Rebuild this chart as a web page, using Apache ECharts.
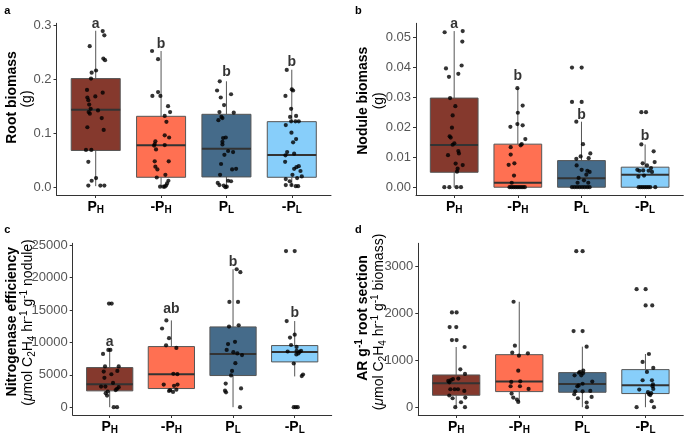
<!DOCTYPE html>
<html><head><meta charset="utf-8">
<script src="https://cdn.jsdelivr.net/npm/echarts@6/dist/echarts.min.js"></script>
<style>html,body{margin:0;padding:0;background:#fff}#c{width:685px;height:433px}</style>
</head><body><div id="c"></div>
<script>
// ---------- DATA ----------
const categories = ['PH', '-PH', 'PL', '-PL'];
const categoryLabels = ['{m|P}{s|H}', '{m|-P}{s|H}', '{m|P}{s|L}', '{m|-P}{s|L}'];

// box stats: [lowerWhisker, Q1, median, Q3, upperWhisker]
const rootBoxes = [[0.002,0.068,0.1435,0.201,0.2895],[0.001,0.0184,0.0776,0.1312,0.252],[0,0.019,0.0714,0.1349,0.196],[0.002,0.0184,0.0597,0.1213,0.2174]];
const noduleBoxes = [[0,0.005,0.0141,0.0298,0.0522],[0,0,0.0015,0.0144,0.0331],[0,0,0.003,0.0089,0.0219],[0,0,0.0042,0.0067,0.0143]];
const effBoxes = [[0,2520,3549,6121,8950],[2350,2881,5092,9361,13400],[0,4887,8229,12395,21300],[4750,6994,8538,9515,13300]];
const arBoxes = [[0,255,511,688,1284],[113,333,546,1121,2249],[0,319,496,738,1291],[0,291,468,802,1135]];

// jittered points: [jitter offset (category units), value]
const rootPH = [[0.107,0.289],[0.132,0.281],[-0.092,0.261],[0.117,0.238],[0.143,0.235],[0.005,0.216],[-0.062,0.212],[-0.072,0.201],[-0.133,0.180],[0.107,0.175],[-0.006,0.168],[-0.128,0.166],[-0.113,0.161],[-0.1,0.153],[-0.077,0.145],[0.035,0.142],[-0.108,0.139],[-0.09,0.136],[0.092,0.128],[-0.128,0.111],[0.122,0.106],[-0.149,0.069],[-0.067,0.069],[-0.113,0.047],[0.005,0.017],[-0.062,0.012],[-0.113,0.003],[0.071,0.003],[0.132,0.003]];
const rootNegPH = [[-0.138,0.252],[-0.046,0.237],[-0.046,0.176],[-0.133,0.169],[-0.010,0.169],[0.107,0.150],[0.138,0.139],[0.056,0.132],[0.082,0.121],[0.056,0.096],[0.123,0.092],[-0.087,0.085],[-0.097,0.080],[-0.107,0.077],[0.056,0.078],[-0.077,0.070],[-0.097,0.048],[0.117,0.048],[-0.087,0.038],[-0.056,0.033],[0.066,0.023],[-0.066,0.018],[0.112,0.012],[0.092,0.007],[0.077,0.003],[0.056,0.001],[-0.015,0.001],[0.036,0.001]];
const rootPL = [[-0.102,0.196],[-0.143,0.179],[0.071,0.172],[-0.087,0.166],[-0.036,0.152],[-0.107,0.139],[0.112,0.138],[-0.077,0.130],[-0.061,0.128],[-0.123,0.124],[-0.010,0.092],[-0.051,0.091],[-0.061,0.084],[-0.061,0.079],[0.026,0.067],[0.102,0.065],[-0.031,0.060],[-0.082,0.043],[0.087,0.033],[0.148,0.034],[-0.097,0.023],[0.026,0.012],[0.071,0.011],[-0.133,0.008],[-0.107,0.004],[-0.041,0.003],[0.005,0.001],[-0.015,0.000]];
const rootNegPL = [[-0.077,0.217],[0.000,0.181],[0.02,0.179],[-0.097,0.169],[-0.010,0.145],[-0.026,0.130],[0.066,0.132],[-0.010,0.122],[0.056,0.122],[0.107,0.122],[-0.092,0.115],[-0.005,0.101],[0.066,0.089],[0.020,0.083],[-0.071,0.065],[0.036,0.062],[-0.097,0.059],[-0.102,0.047],[0.107,0.039],[0.071,0.037],[0.036,0.034],[0.133,0.030],[0.010,0.023],[0.153,0.020],[-0.092,0.015],[0.082,0.017],[-0.031,0.011],[-0.092,0.004],[-0.005,0.004],[0.061,0.002],[0.097,0.002]];

const nodPH = [[-0.150,0.0518],[0.134,0.0522],[0.128,0.0487],[0.117,0.0407],[-0.129,0.0397],[0.065,0.0379],[-0.082,0.0369],[-0.065,0.0298],[0.018,0.0271],[-0.024,0.024],[-0.035,0.0199],[-0.071,0.0170],[-0.055,0.0166],[0.002,0.0147],[-0.024,0.0142],[-0.097,0.0107],[0.065,0.0121],[0.075,0.0113],[0.023,0.0079],[0.134,0.0074],[0.054,0.0062],[0.044,0.0052],[-0.155,0],[-0.076,0],[0.039,0],[0.107,0]];
const nodNegPH = [[-0.007,0.0331],[0.076,0.0273],[0.0,0.0249],[-0.117,0.0202],[-0.007,0.0211],[0.076,0.0207],[0.118,0.0161],[0.061,0.0144],[0.045,0.0140],[-0.112,0.0134],[-0.112,0.0109],[-0.144,0.0075],[-0.054,0.0080],[-0.060,0.0039],[-0.096,0.0015],[-0.13,0],[-0.1,0],[-0.07,0],[-0.04,0],[-0.01,0],[0.02,0],[0.05,0],[0.08,0],[0.11,0]];
const nodPL = [[-0.149,0.04],[0.003,0.04],[-0.149,0.0285],[0.003,0.0285],[-0.081,0.0219],[0.024,0.0144],[-0.013,0.0103],[0.139,0.0113],[0.113,0.0097],[-0.081,0.0095],[-0.076,0.0073],[0.092,0.0055],[0.128,0.0051],[0.003,0.0058],[0.076,0.0042],[-0.045,0.0031],[0.039,0.0023],[0.107,0.0015],[-0.061,0.0015],[-0.149,0],[-0.11,0],[-0.07,0],[-0.03,0],[0.01,0],[0.05,0],[0.09,0],[0.128,0]];
const nodNegPL = [[-0.059,0.0251],[0.014,0.0251],[-0.059,0.0143],[0.134,0.012],[0.150,0.0084],[-0.038,0.008],[0.030,0.0073],[0.093,0.0064],[-0.122,0.0058],[-0.09,0.0055],[-0.03,0.0056],[0.055,0.0055],[0.108,0.0051],[-0.106,0.0035],[-0.017,0.0039],[-0.101,0],[-0.07,0],[-0.04,0],[-0.01,0],[0.02,0],[0.05,0],[0.08,0],[0.16,0]];

const effPH = [[-0.011,16000],[0.032,16000],[-0.022,8850],[0.011,8850],[-0.108,8230],[-0.076,6300],[0.146,6300],[-0.097,5500],[0.124,5600],[0.027,5090],[-0.086,4530],[0.054,3750],[-0.14,3190],[-0.07,3190],[0.146,3090],[0.119,2830],[-0.032,2420],[-0.065,2160],[0.097,2650],[-0.043,1800],[0.065,0],[0.119,0]];
const effNegPH = [[-0.081,13400],[-0.151,12150],[-0.038,10650],[-0.086,9560],[0.081,9150],[0.032,5150],[0.097,5100],[-0.124,3500],[0.043,3300],[0.1,3500],[-0.038,2500],[0.027,2350],[-0.022,2650],[0.081,2700]];
const effPL = [[0.059,21300],[0.119,20850],[-0.059,16250],[0.081,16250],[-0.065,12450],[0.092,12650],[0.032,10100],[-0.081,9750],[-0.103,8850],[0.005,8500],[0.07,8300],[0.146,8050],[0.038,6800],[-0.016,5600],[-0.032,4900],[-0.119,3650],[-0.13,2550],[-0.114,2300],[0.13,2900],[0.114,0]];
const effNegPL = [[-0.141,24100],[0.0,24100],[-0.13,13300],[0.0,11200],[-0.076,10750],[-0.059,9600],[0.03,9300],[-0.114,8600],[0.032,8700],[0.081,8550],[0.103,8700],[0.027,8150],[0.06,8300],[-0.016,6750],[0.114,4800],[0.135,5050],[-0.016,0],[0.016,0],[0.049,0]];

const arPH = [[-0.067,2022],[0.007,2022],[-0.103,1709],[0.002,1709],[-0.067,1433],[0.007,1433],[0.134,1284],[0.066,809],[0.14,709],[0.034,610],[-0.125,560],[-0.082,580],[-0.109,530],[-0.05,600],[-0.092,383],[-0.024,383],[0.029,383],[0.129,348],[-0.109,250],[-0.056,191],[0.145,206],[0.077,106],[-0.014,0],[0.14,0]];
const arNegPH = [[-0.09,2249],[-0.069,1312],[-0.111,1163],[-0.005,1100],[0.137,1149],[-0.016,780],[-0.127,539],[-0.137,447],[0.016,553],[0.011,447],[0.148,390],[-0.121,291],[-0.095,206],[-0.037,163],[-0.016,113]];
const arPL = [[-0.096,3327],[0.004,3327],[-0.139,1624],[0.004,1624],[0.068,1291],[-0.038,756],[-0.054,735],[0.015,780],[-0.123,681],[-0.017,681],[0.01,724],[0.157,546],[0.004,500],[-0.059,465],[-0.08,447],[0.126,348],[-0.112,340],[0.004,340],[-0.128,277],[0.147,220],[-0.07,191],[0.068,99],[0.073,0]];
const arNegPL = [[-0.14,2518],[0.003,2518],[0.003,2171],[0.108,2171],[0.055,1135],[-0.045,965],[0.124,837],[0.024,752],[-0.045,575],[0.103,575],[0.119,490],[0.113,447],[-0.098,376],[0.124,390],[0.04,320],[0.055,280],[0.076,260],[0.092,300],[0.098,128],[0.135,0],[-0.14,0]];

// significance letters and their heights
const rootLetters = ['a','b','b','b'];      const rootLetterY = [0.302,0.265,0.2125,0.231];
const nodLetters = ['a','b','b','b'];       const nodLetterY = [0.0544,0.037,0.0241,0.017];
const effLetters = ['a','ab','b','b'];      const effLetterY = [10000,15172,22373,14453];

// y tick labels
const rootTicks = [0,0.1,0.2,0.3];
const nodTicks = [0,0.01,0.02,0.03,0.04,0.05];
const effTicks = [0,5000,10000,15000,20000,25000];
const arTicks = [0,1000,2000,3000];

// ---------- STYLE / LAYOUT ----------
const boxColors = ['#85392D','#FF7052','#456B8A','#87CEFA'];
const FONT = 'Liberation Sans';
const panels = [
  {grid:{left:56.5,top:23.3,width:274.5,height:171.7}, yMin:-0.0144, yMax:0.3033, ticks:rootTicks, fmt:v=>v.toFixed(1),
   boxes:rootBoxes, pts:[rootPH,rootNegPH,rootPL,rootNegPL], letters:rootLetters, letterY:rootLetterY},
  {grid:{left:416,top:23.3,width:267.3,height:171.7}, yMin:-0.0026, yMax:0.0548, ticks:nodTicks, fmt:v=>v.toFixed(2),
   boxes:noduleBoxes, pts:[nodPH,nodNegPH,nodPL,nodNegPL], letters:nodLetters, letterY:nodLetterY},
  {grid:{left:72.7,top:243.3,width:259,height:171.7}, yMin:-1205, yMax:25305, ticks:effTicks, fmt:v=>String(v),
   boxes:effBoxes, pts:[effPH,effNegPH,effPL,effNegPL], letters:effLetters, letterY:effLetterY},
  {grid:{left:418.3,top:243.3,width:265,height:171.7}, yMin:-166, yMax:3496, ticks:arTicks, fmt:v=>String(v),
   boxes:arBoxes, pts:[arPH,arNegPH,arPL,arNegPL], letters:null, letterY:null}
];

const grids=[], xAxes=[], yAxes=[], series=[];
panels.forEach((p, k) => {
  grids.push(Object.assign({outerBoundsMode:'none', containLabel:false}, p.grid));
  xAxes.push({
    type:'value', gridIndex:k, min:0.4, max:4.6,
    axisLine:{onZero:false, lineStyle:{color:'#333', width:1}},
    axisTick:{show:true, length:3, customValues:[1,2,3,4], lineStyle:{color:'#333'}},
    splitLine:{show:false},
    axisLabel:{customValues:[1,2,3,4], margin:4, formatter:v=>categoryLabels[Math.round(v)-1],
      rich:{m:{fontFamily:FONT, fontWeight:'bold', fontSize:14, color:'#000', lineHeight:16},
            s:{fontFamily:FONT, fontWeight:'bold', fontSize:10, color:'#000', lineHeight:10, verticalAlign:'bottom'}}}
  });
  yAxes.push({
    type:'value', gridIndex:k, min:p.yMin, max:p.yMax,
    axisLine:{show:true, onZero:false, lineStyle:{color:'#333', width:1}},
    axisTick:{show:true, length:3, customValues:p.ticks, lineStyle:{color:'#333'}},
    splitLine:{show:false},
    axisLabel:{customValues:p.ticks, formatter:p.fmt, margin:5, fontFamily:FONT, fontSize:13, color:'#555'}
  });
  series.push({
    type:'custom', xAxisIndex:k, yAxisIndex:k, silent:true, z:2,
    data:p.boxes.map((b,i)=>[i+1].concat(b)),
    renderItem:(params, api)=>{
      const x=api.value(0);
      const pMin=api.coord([x,api.value(1)]), pQ1=api.coord([x,api.value(2)]), pMd=api.coord([x,api.value(3)]),
            pQ3=api.coord([x,api.value(4)]), pMax=api.coord([x,api.value(5)]);
      const half=api.size([0.75,0])[0]/2;
      const c=boxColors[params.dataIndex];
      return {type:'group', children:[
        {type:'line', shape:{x1:pMin[0],y1:pMin[1],x2:pQ1[0],y2:pQ1[1]}, style:{stroke:'#555',lineWidth:1}},
        {type:'line', shape:{x1:pQ3[0],y1:pQ3[1],x2:pMax[0],y2:pMax[1]}, style:{stroke:'#555',lineWidth:1}},
        {type:'rect', shape:{x:pQ1[0]-half,y:pQ3[1],width:2*half,height:pQ1[1]-pQ3[1]}, style:{fill:c,stroke:'#555',lineWidth:1}},
        {type:'line', shape:{x1:pMd[0]-half,y1:pMd[1],x2:pMd[0]+half,y2:pMd[1]}, style:{stroke:'#333',lineWidth:2}}
      ]};
    }
  });
  const pts=[];
  p.pts.forEach((arr,i)=>arr.forEach(d=>pts.push([i+1+d[0], d[1]])));
  series.push({type:'scatter', xAxisIndex:k, yAxisIndex:k, data:pts, symbolSize:4.2, clip:false, silent:true, z:5,
    itemStyle:{color:'#000'}});
  if (p.letters) {
    series.push({type:'scatter', xAxisIndex:k, yAxisIndex:k, clip:false, silent:true, z:6, symbolSize:1,
      itemStyle:{color:'rgba(0,0,0,0)'},
      data:p.letters.map((t,i)=>[i+1, p.letterY[i], t]),
      label:{show:true, position:'inside', formatter:q=>q.data[2], fontFamily:FONT, fontWeight:'bold', fontSize:14, color:'#000'}});
  }
});

function vtext(x, y, text, weight, rich) {
  return {type:'text', x:x, y:y, rotation:Math.PI/2, silent:true,
    style:{text:text, fontFamily:FONT, fontSize:14, fontWeight:weight, fill:'#000', align:'center', verticalAlign:'middle', lineHeight:18, rich:rich}};
}
const subSup = {
  n:{fontFamily:FONT, fontSize:14, lineHeight:18, fill:'#000'},
  nb:{fontFamily:FONT, fontSize:14, fontWeight:'bold', lineHeight:18, fill:'#000'},
  i:{fontFamily:FONT, fontSize:14, fontStyle:'italic', lineHeight:18, fill:'#000'},
  sub:{fontFamily:FONT, fontSize:10, lineHeight:11, verticalAlign:'bottom', fill:'#000'},
  sup:{fontFamily:FONT, fontSize:10, lineHeight:11, verticalAlign:'top', fill:'#000'},
  supb:{fontFamily:FONT, fontSize:10, fontWeight:'bold', lineHeight:11, verticalAlign:'top', fill:'#000'}
};
const graphics = [
  {type:'text', x:7.3, y:10.7, silent:true, style:{text:'a', fontFamily:FONT, fontSize:11, fontWeight:'bold', fill:'#000', align:'center', verticalAlign:'middle'}},
  {type:'text', x:358.3, y:10.7, silent:true, style:{text:'b', fontFamily:FONT, fontSize:11, fontWeight:'bold', fill:'#000', align:'center', verticalAlign:'middle'}},
  {type:'text', x:7.3, y:230, silent:true, style:{text:'c', fontFamily:FONT, fontSize:11, fontWeight:'bold', fill:'#000', align:'center', verticalAlign:'middle'}},
  {type:'text', x:358.3, y:230, silent:true, style:{text:'d', fontFamily:FONT, fontSize:11, fontWeight:'bold', fill:'#000', align:'center', verticalAlign:'middle'}},
  vtext(11.7, 97.5, 'Root biomass', 'bold'),
  vtext(26.7, 99, '(g)', 'normal'),
  vtext(362.7, 100.7, 'Nodule biomass', 'bold'),
  vtext(379, 100.8, '(g)', 'normal'),
  vtext(11.7, 321.7, 'Nitrogenase efficiency', 'bold'),
  vtext(28.3, 322.5, '{n|(}{i|μ}{n|mol C}{sub|2}{n|H}{sub|4}{n| hr}{sup|-1}{n| g}{sup|-1}{n| nodule)}', 'normal', subSup),
  vtext(363.3, 318, '{nb|AR g}{supb|-1}{nb| root section}', 'bold', subSup),
  vtext(378.8, 322, '{n|(}{i|μ}{n|mol C}{sub|2}{n|H}{sub|4}{n| hr}{sup|-1}{n| g}{sup|-1}{n| biomass)}', 'normal', subSup)
];

const chart = echarts.init(document.getElementById('c'), null, {renderer:'canvas'});
chart.setOption({
  animation:false, backgroundColor:'#fff',
  grid:grids, xAxis:xAxes, yAxis:yAxes, series:series, graphic:graphics
});
</script></body></html>
